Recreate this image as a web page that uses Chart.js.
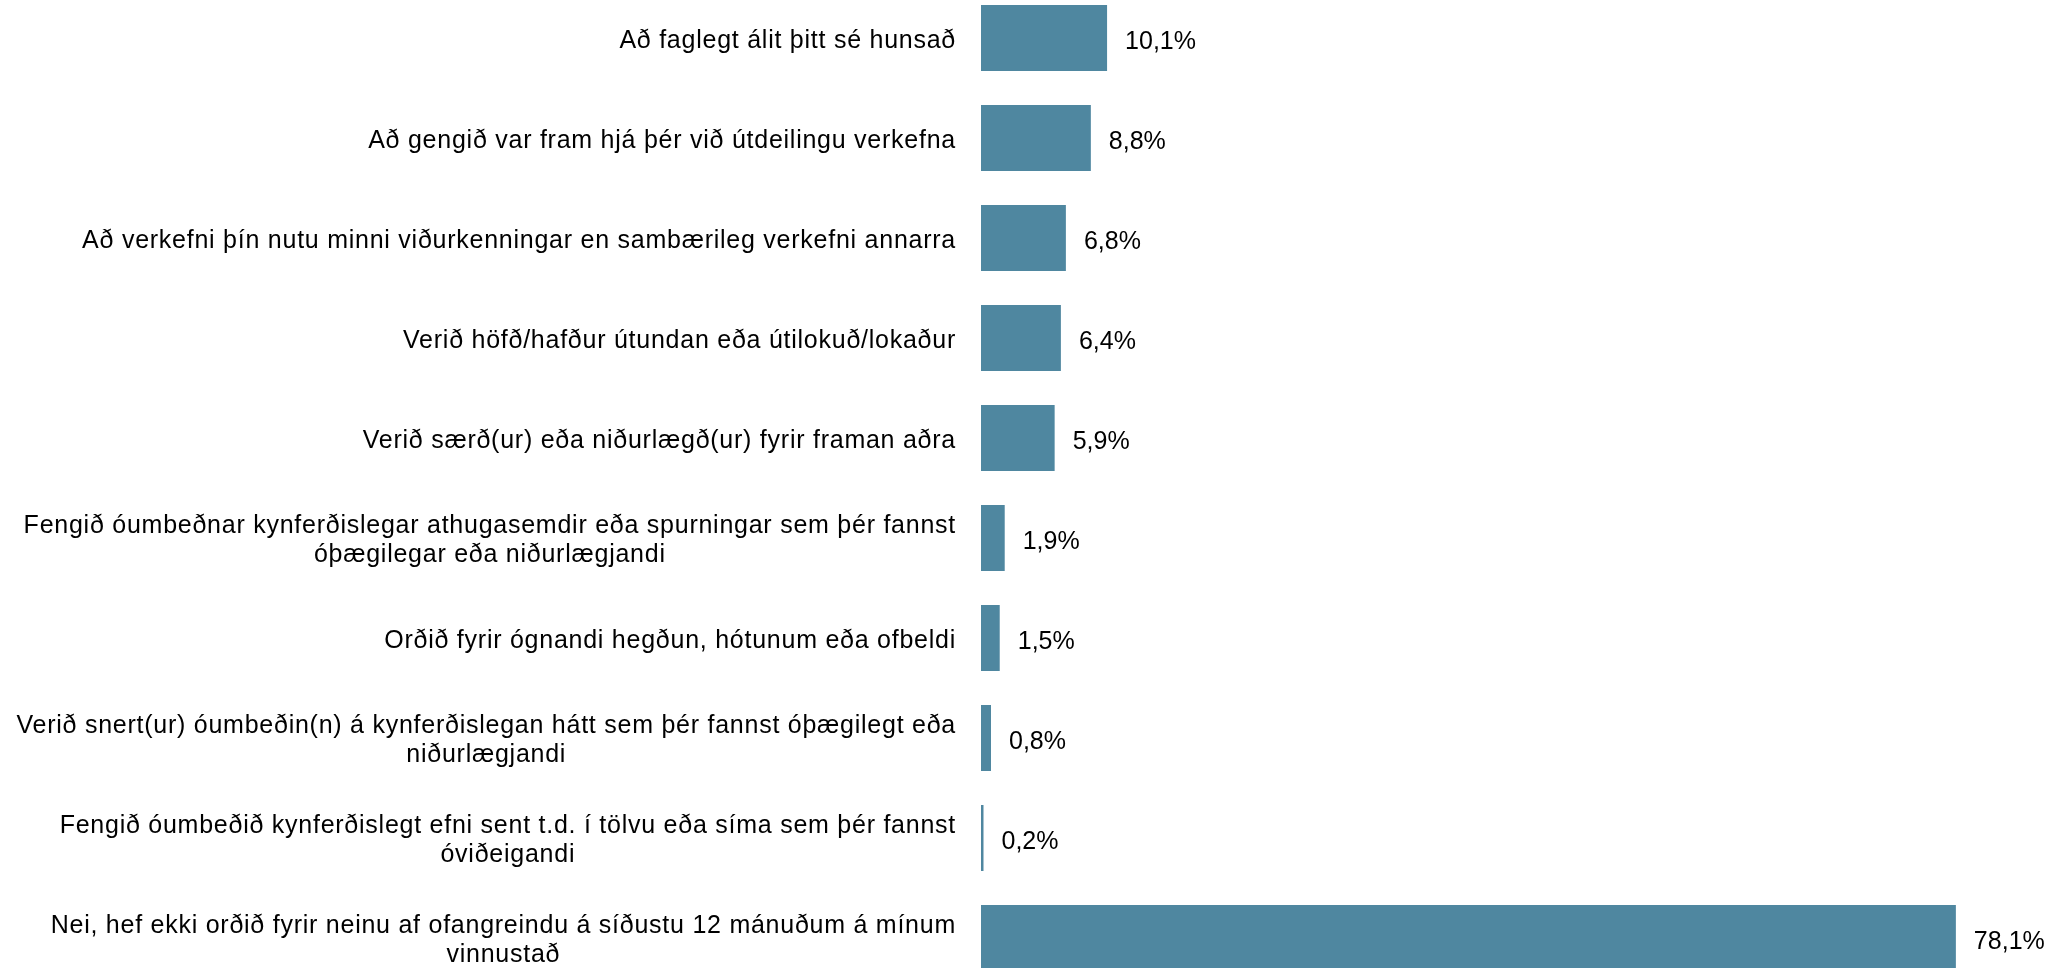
<!DOCTYPE html>
<html>
<head>
<meta charset="utf-8">
<script src="https://cdn.jsdelivr.net/npm/chart.js@4"></script>
<style>
  html, body { margin: 0; padding: 0; background: #fff; overflow: hidden; }
  #wrap { position: absolute; left: 0; top: -12px; width: 2062px; height: 1000px; }
</style>
</head>
<body>
<div id="wrap"><canvas id="myChart"></canvas></div>
<script>
var categories = [
    "Að faglegt álit þitt sé hunsað",
    "Að gengið var fram hjá þér við útdeilingu verkefna",
    "Að verkefni þín nutu minni viðurkenningar en sambærileg verkefni annarra",
    "Verið höfð/hafður útundan eða útilokuð/lokaður",
    "Verið særð(ur) eða niðurlægð(ur) fyrir framan aðra",
    ["Fengið óumbeðnar kynferðislegar athugasemdir eða spurningar sem þér fannst", "óþægilegar eða niðurlægjandi"],
    "Orðið fyrir ógnandi hegðun, hótunum eða ofbeldi",
    ["Verið snert(ur) óumbeðin(n) á kynferðislegan hátt sem þér fannst óþægilegt eða", "niðurlægjandi"],
    ["Fengið óumbeðið kynferðislegt efni sent t.d. í tölvu eða síma sem þér fannst", "óviðeigandi"],
    ["Nei, hef ekki orðið fyrir neinu af ofangreindu á síðustu 12 mánuðum á mínum", "vinnustað"]
];
var values = [10.1, 8.8, 6.8, 6.4, 5.9, 1.9, 1.5, 0.8, 0.2, 78.1];

var FONT = "25px 'Liberation Sans', Arial, sans-serif";

// category labels: block right-aligned, lines centred inside the block
var catLabels = {
    id: 'catLabels',
    afterDraw: function (chart) {
        var c = chart.ctx;
        var y = chart.scales.y;
        var right = chart.chartArea.left - 25;
        c.save();
        c.font = FONT;
        c.letterSpacing = '0.75px';
        c.fillStyle = '#000';
        c.textAlign = 'center';
        c.textBaseline = 'middle';
        categories.forEach(function (lab, i) {
            var lines = Array.isArray(lab) ? lab : [lab];
            var w = 0;
            lines.forEach(function (l) { w = Math.max(w, c.measureText(l).width); });
            var cx = right - w / 2;
            var lh = 29;
            var y0 = y.getPixelForValue(i) + 3 - (lines.length - 1) * lh / 2;
            lines.forEach(function (l, k) { c.fillText(l, cx, y0 + k * lh); });
        });
        c.restore();
    }
};

var valueLabels = {
    id: 'valueLabels',
    afterDatasetsDraw: function (chart) {
        var c = chart.ctx;
        var meta = chart.getDatasetMeta(0);
        c.save();
        c.font = FONT;
        c.fillStyle = '#000';
        c.textAlign = 'left';
        c.textBaseline = 'middle';
        meta.data.forEach(function (bar, i) {
            c.fillText(values[i].toFixed(1).replace('.', ',') + '%', bar.x + 18, bar.y + 4);
        });
        c.restore();
    }
};

var ctx = document.getElementById("myChart");
var myChart = new Chart(ctx, {
    type: 'bar',
    data: {
        labels: categories,
        datasets: [{
            data: values,
            backgroundColor: '#4F87A0',
            borderWidth: 0,
            barPercentage: 0.66,
            categoryPercentage: 1
        }]
    },
    options: {
        indexAxis: 'y',
        responsive: true,
        maintainAspectRatio: false,
        animation: false,
        layout: { padding: { left: 981, right: 20, top: 0, bottom: 0 } },
        scales: {
            x: { display: false, min: 0, max: 85 },
            y: { display: false }
        },
        plugins: {
            legend: { display: false },
            tooltip: { enabled: false }
        }
    },
    plugins: [catLabels, valueLabels]
});
</script>
</body>
</html>
